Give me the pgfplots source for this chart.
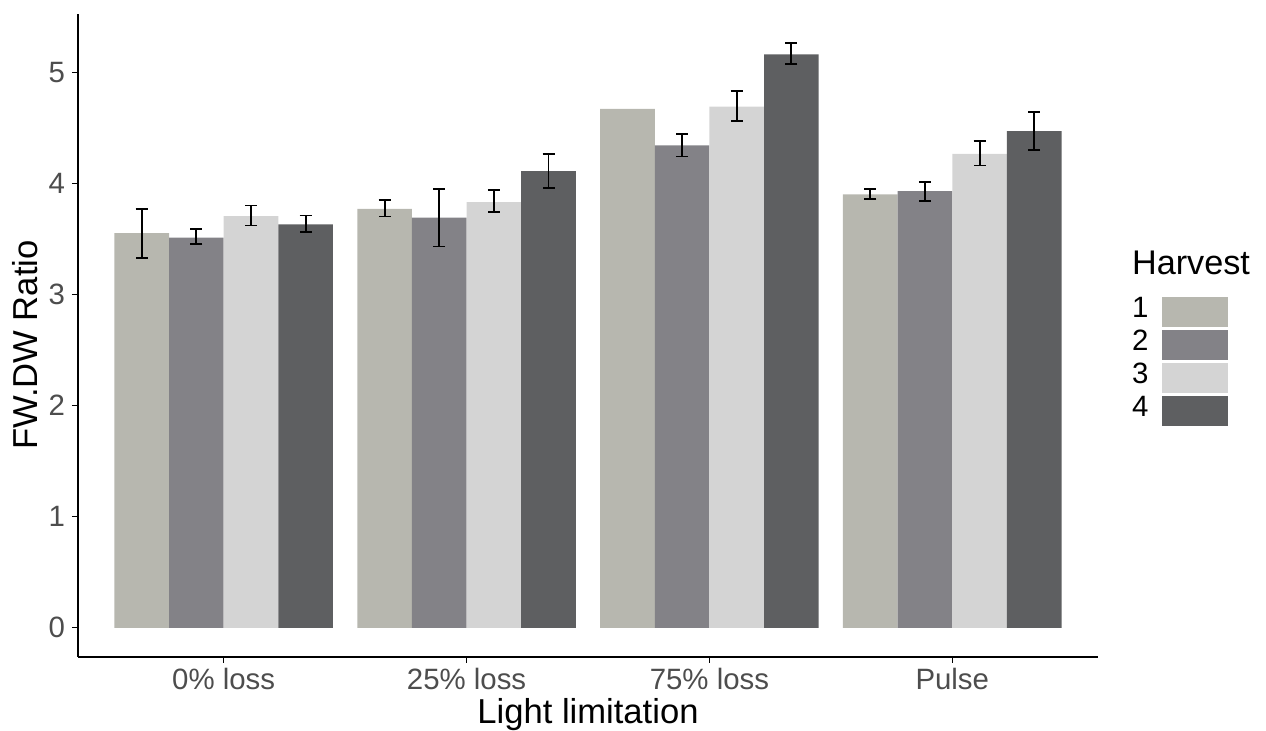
\documentclass[border=0pt]{standalone}
\usepackage{pgfplots}
\pgfplotsset{compat=1.18}
\usepackage{fontspec}
\setmainfont{Liberation Sans}
\definecolor{c1}{RGB}{183,183,175}
\definecolor{c2}{RGB}{131,130,135}
\definecolor{c3}{RGB}{212,212,212}
\definecolor{c4}{RGB}{94,95,97}
\definecolor{tickgrey}{RGB}{77,77,77}
\begin{document}
\begin{tikzpicture}
\useasboundingbox (-39pt,-37pt) rectangle (594pt,328.5pt);
\begin{axis}[
  at={(0,0)}, anchor=south west, clip=false,
  scale only axis, width=510pt, height=321.5pt,
  xmin=0.4, xmax=4.6, ymin=-0.263, ymax=5.523,
  axis x line*=bottom, axis y line*=left,
  axis line style={-, black, line width=0.75pt},
  tick align=outside, major tick length=3pt,
  tick style={black, line width=0.6pt},
  xtick={1,2,3,4}, xticklabels={0\% loss,25\% loss,75\% loss,Pulse},
  ytick={0,1,2,3,4,5},
  /pgf/number format/assume math mode=true,
  ticklabel style={font=\fontsize{14.7}{16}\selectfont, text=tickgrey},
  xticklabel style={yshift=1pt},
  xlabel={Light limitation}, ylabel={FW.DW Ratio},
  label style={font=\fontsize{17.3}{19}\selectfont},
  xlabel style={at={(axis description cs:0.5,-0.1042)}, anchor=base},
  ylabel style={at={(axis description cs:-0.052,0.485)}, anchor=center},
  ybar, bar width=0.225,
  every axis plot/.append style={draw=none},
  error bars/error bar style={line width=0.9pt, black},
  error bars/error mark options={rotate=90, mark size=3pt, line width=0.9pt, black},
  legend plot pos=right,
  legend style={at={(axis description cs:1.033,0.563)}, anchor=north west,
    draw=none, fill=none, inner sep=0pt, row sep=0pt, column sep=7pt,
    font=\fontsize{14.7}{16}\selectfont,
    nodes={inner sep=0pt, text height=11pt, text depth=5.5pt, anchor=west}},
  legend image code/.code={\fill[#1] (0pt,-7.5pt) rectangle (33pt,7.5pt);},
]
\addplot[fill=c1, bar shift=-0.3375] coordinates {(1,3.55) (2,3.77) (3,4.67) (4,3.90)};
\addlegendentry{1}
\addplot[fill=c2, bar shift=-0.1125,
  error bars/.cd, y dir=both, y explicit] table[x=x, y=y, y error plus=ep, y error minus=em] {
x y ep em
1 3.51 0.075 0.06
2 3.69 0.26 0.26
3 4.34 0.10 0.10
4 3.93 0.08 0.09
};
\addlegendentry{2}
\addplot[fill=c3, bar shift=0.1125,
  error bars/.cd, y dir=both, y explicit] table[x=x, y=y, y error plus=ep, y error minus=em] {
x y ep em
1 3.705 0.095 0.085
2 3.83 0.11 0.09
3 4.69 0.14 0.13
4 4.265 0.115 0.105
};
\addlegendentry{3}
\addplot[fill=c4, bar shift=0.3375,
  error bars/.cd, y dir=both, y explicit] table[x=x, y=y, y error plus=ep, y error minus=em] {
x y ep em
1 3.63 0.08 0.07
2 4.11 0.15 0.15
3 5.16 0.10 0.09
4 4.47 0.17 0.17
};
\addlegendentry{4}
\addplot[forget plot, fill=none, draw=none, bar shift=-0.3375,
  error bars/.cd, y dir=both, y explicit] table[x=x, y=y, y error plus=ep, y error minus=em] {
x y ep em
1 3.55 0.22 0.22
2 3.77 0.08 0.07
4 3.90 0.05 0.045
};
\node[anchor=west, font=\fontsize{17.1}{19}\selectfont, inner sep=0pt] at (axis description cs:1.033,0.613) {Harvest};
\end{axis}
\end{tikzpicture}
\end{document}
